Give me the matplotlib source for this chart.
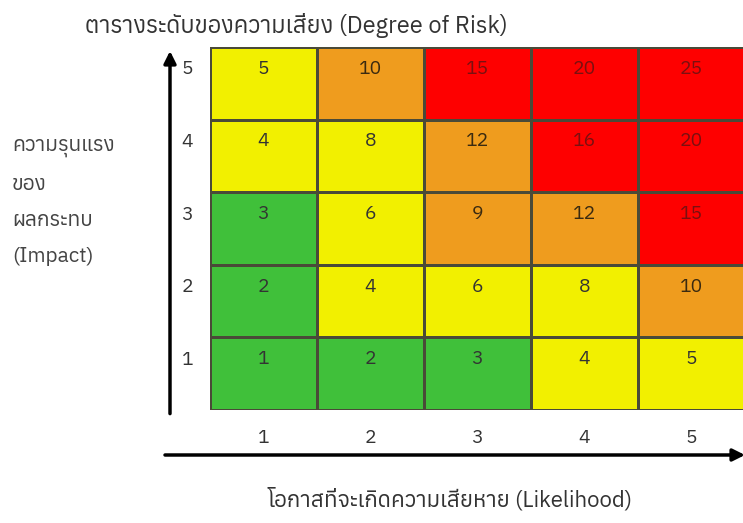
import matplotlib
matplotlib.use("Agg")
import matplotlib.pyplot as plt
from matplotlib import font_manager
from matplotlib.ft2font import FT2Font
from matplotlib.colors import ListedColormap
import matplotlib.transforms as mtransforms
import numpy as np

# ---- data ----
likelihood = [1, 2, 3, 4, 5]
impact = [1, 2, 3, 4, 5]
# risk level per cell, rows = impact 1..5, cols = likelihood 1..5
# 0 green, 1 yellow, 2 orange, 3 red
levels = [
    [0, 0, 0, 1, 1],
    [0, 1, 1, 1, 2],
    [0, 1, 2, 2, 3],
    [1, 1, 2, 3, 3],
    [1, 2, 3, 3, 3],
]
level_colors = ["#40c03a", "#f2f000", "#ef9c1e", "#fe0000"]
text_colors = ["#333333", "#333333", "#3a2a10", "#7a1010"]
title = "ตารางระดับของความเสี่ยง (Degree of Risk)"
ylabel_lines = ["ความรุนแรง", "ของ", "ผลกระทบ", "(Impact)"]
xlabel = "โอกาสที่จะเกิดความเสียหาย (Likelihood)"

# find a font with Thai glyphs
thai = []
for f in font_manager.fontManager.ttflist:
    try:
        cm = FT2Font(f.fname).get_charmap()
        if 0x0E01 in cm and 0x0E2A in cm:
            thai.append(f.name)
    except Exception:
        pass
thai = sorted(set(thai))
fams = ([thai[0]] if thai else []) + ["DejaVu Sans"]
plt.rcParams["font.family"] = fams

W, H = 743, 523
fig = plt.figure(figsize=(W / 100, H / 100), dpi=100)
ax = fig.add_axes([210 / W, 113 / H, 535 / W, 363 / H])

lv = np.array(levels)
cmap = ListedColormap(level_colors)
x = np.arange(0.5, 6.5, 1)
y = np.arange(0.5, 6.5, 1)
ax.pcolormesh(x, y, lv, cmap=cmap, vmin=-0.5, vmax=3.5,
              edgecolor="#4a4a38", linewidth=0.9)
ax.set_xlim(0.5, 5.5)
ax.set_ylim(0.5, 5.5)
for i, im in enumerate(impact):
    for j, lk in enumerate(likelihood):
        ax.text(lk, im + 0.2, str(lk * im), ha="center", va="center",
                fontsize=14, color=text_colors[levels[i][j]])
for s in ax.spines.values():
    s.set_visible(False)
ax.set_xticks(likelihood)
ax.set_yticks(impact)
ax.set_xticklabels([str(v) for v in likelihood], fontsize=14, color="#333333")
ax.set_yticklabels([str(v) for v in impact], fontsize=14, color="#333333")
ax.tick_params(length=0)
ax.tick_params(axis="x", pad=14)
ax.tick_params(axis="y", pad=12)
off = mtransforms.ScaledTranslation(0, 14 / 100, fig.dpi_scale_trans)
for lab in ax.get_yticklabels():
    lab.set_va("center")
    lab.set_transform(lab.get_transform() + off)

# arrows
ax.annotate("", xy=(-40 / 535, 1 - 4 / 363), xytext=(-40 / 535, -0.01),
            xycoords="axes fraction",
            arrowprops=dict(arrowstyle="-|>", color="black", lw=2.5,
                            mutation_scale=18, shrinkA=0, shrinkB=0))
ax.annotate("", xy=(1.0, -45 / 363), xytext=(-45 / 535, -45 / 363),
            xycoords="axes fraction",
            arrowprops=dict(arrowstyle="-|>", color="black", lw=2.5,
                            mutation_scale=18, shrinkA=0, shrinkB=0))

fig.text(85 / W, 1 - 25 / H, title, fontsize=17, color="#333333",
         ha="left", va="center")
for k, line in enumerate(ylabel_lines):
    fig.text(12 / W, 1 - (148 + k * 36) / H, line, fontsize=15,
             color="#444444", ha="left", va="center")
fig.text(450 / W, 1 - 500 / H, xlabel, fontsize=16, color="#333333",
         ha="center", va="center")

fig.savefig("out.png", dpi=100)
